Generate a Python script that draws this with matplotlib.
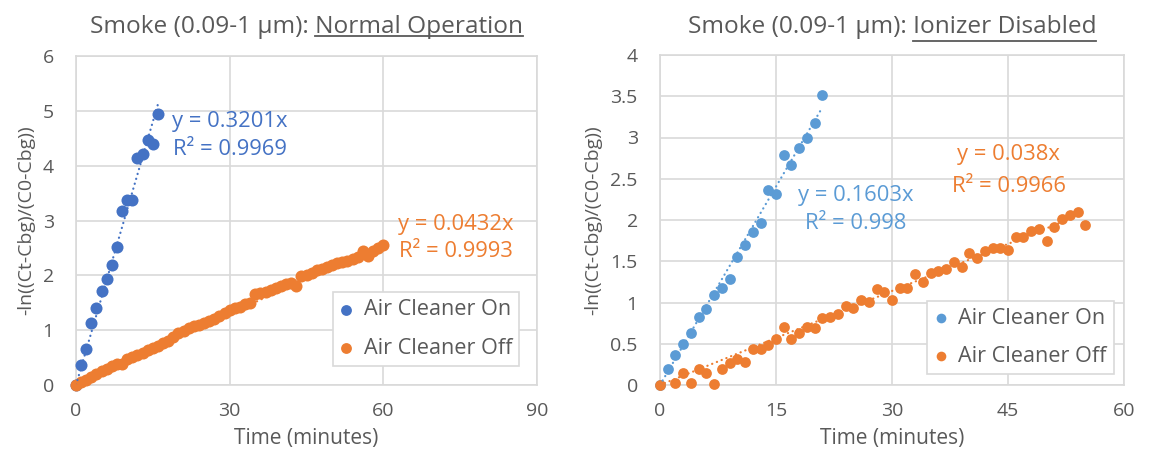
import numpy as np
import matplotlib
matplotlib.use("Agg")
import matplotlib.pyplot as plt
from matplotlib.lines import Line2D

# ---- data ----
left_on_t = list(range(0, 17))
left_on_y = [0, 0.36, 0.65, 1.13, 1.40, 1.72, 1.93, 2.18, 2.51, 3.18, 3.38,
             3.38, 4.14, 4.21, 4.47, 4.40, 4.95]

left_off_t = list(range(0, 61))
left_off_y = [0.00, 0.05, 0.10, 0.15, 0.20, 0.25, 0.30, 0.35, 0.39, 0.38,
              0.47, 0.51, 0.55, 0.58, 0.63, 0.67, 0.71, 0.76, 0.81, 0.87,
              0.94, 0.99, 1.04, 1.07, 1.10, 1.13, 1.17, 1.21, 1.26, 1.32,
              1.37, 1.40, 1.43, 1.47, 1.50, 1.66, 1.67, 1.70, 1.73, 1.76,
              1.81, 1.85, 1.86, 1.80, 1.98, 2.01, 2.04, 2.09, 2.12, 2.16,
              2.19, 2.22, 2.24, 2.27, 2.30, 2.34, 2.45, 2.36, 2.44, 2.50,
              2.55]

right_on_t = list(range(0, 22))
right_on_y = [0, 0.20, 0.36, 0.50, 0.63, 0.82, 0.92, 1.09, 1.18, 1.28, 1.55,
              1.70, 1.85, 1.96, 2.36, 2.32, 2.79, 2.67, 2.87, 2.99, 3.17, 3.52]

right_off_t = [0] + list(range(2, 56))
right_off_y = [0, 0.02, 0.15, 0.02, 0.19, 0.14, 0.01, 0.19, 0.27, 0.32, 0.28,
               0.44, 0.44, 0.48, 0.56, 0.70, 0.56, 0.63, 0.70, 0.69, 0.81,
               0.82, 0.86, 0.96, 0.93, 1.03, 1.01, 1.16, 1.13, 1.03, 1.17,
               1.17, 1.34, 1.25, 1.36, 1.38, 1.41, 1.49, 1.43, 1.60, 1.54,
               1.63, 1.66, 1.66, 1.64, 1.80, 1.79, 1.87, 1.89, 1.75, 1.91,
               2.01, 2.06, 2.10, 1.94]

# trendline slopes (Excel fit through origin)
slopes = {"left_on": 0.3201, "left_off": 0.0432,
          "right_on": 0.1603, "right_off": 0.038}
labels = {"left_on": ("y = 0.3201x", "R² = 0.9969"),
          "left_off": ("y = 0.0432x", "R² = 0.9993"),
          "right_on": ("y = 0.1603x", "R² = 0.998"),
          "right_off": ("y = 0.038x", "R² = 0.9966")}

GRAY = "#595959"
GRID = "#d9d9d9"
BLUE_L = "#4472C4"
BLUE_R = "#5B9BD5"
ORANGE = "#ED7D31"

plt.rcParams["font.family"] = ["Open Sans", "DejaVu Sans"]

W, H = 1155, 455
fig = plt.figure(figsize=(W / 100, H / 100), dpi=100)


def px_axes(x0, x1, ytop, ybot):
    return fig.add_axes([x0 / W, (H - ybot) / H, (x1 - x0) / W, (ybot - ytop) / H])


ax1 = px_axes(76, 537, 56, 385)
ax2 = px_axes(660, 1124, 55, 385)


def style_axes(ax, xmax, xticks, ymax, yticks, yticklabels):
    ax.set_xlim(0, xmax)
    ax.set_ylim(0, ymax)
    ax.set_xticks(xticks)
    ax.set_yticks(yticks)
    ax.set_yticklabels(yticklabels)
    ax.grid(True, color=GRID, linewidth=1.2)
    ax.set_axisbelow(True)
    for s in ax.spines.values():
        s.set_color(GRID)
        s.set_linewidth(1.2)
    ax.tick_params(length=0, labelsize=14, colors=GRAY)
    ax.tick_params(axis="y", pad=16)
    ax.tick_params(axis="x", pad=12)
    ax.set_xlabel("Time (minutes)", fontsize=15, color=GRAY, labelpad=6)
    ax.set_ylabel("-ln((Ct-Cbg)/(C0-Cbg))", fontsize=14, color=GRAY)


def series(ax, t, y, color, label, slope, size):
    ax.scatter(t, y, s=size, color=color, label=label, zorder=3,
               clip_on=False, linewidths=0)
    tt = np.array([0, max(t)])
    ax.plot(tt, slope * tt, color=color, linewidth=1.6,
            linestyle=(0, (0.1, 2.2)), dash_capstyle="round", zorder=4)


def trend_label(ax, xc, y1, y2, lines, color):
    ax.text(xc, y1, lines[0], color=color, fontsize=15.8, ha="center", va="center")
    ax.text(xc, y2, lines[1], color=color, fontsize=15.8, ha="center", va="center")


# left chart
style_axes(ax1, 90, [0, 30, 60, 90], 6, range(0, 7), [str(v) for v in range(0, 7)])
series(ax1, left_on_t, left_on_y, BLUE_L, "Air Cleaner On", slopes["left_on"], 75)
series(ax1, left_off_t, left_off_y, ORANGE, "Air Cleaner Off", slopes["left_off"], 75)
trend_label(ax1, 30.0, 4.80, 4.29, labels["left_on"], BLUE_L)
trend_label(ax1, 74.1, 2.93, 2.43, labels["left_off"], ORANGE)
ax1.yaxis.set_label_coords(-0.089, 0.5)

# right chart
yt = [0, 0.5, 1, 1.5, 2, 2.5, 3, 3.5, 4]
style_axes(ax2, 60, [0, 15, 30, 45, 60], 4, yt, ["0", "0.5", "1", "1.5", "2", "2.5", "3", "3.5", "4"])
series(ax2, right_on_t, right_on_y, BLUE_R, "Air Cleaner On", slopes["right_on"], 60)
series(ax2, right_off_t, right_off_y, ORANGE, "Air Cleaner Off", slopes["right_off"], 60)
trend_label(ax2, 25.3, 2.30, 1.96, labels["right_on"], BLUE_R)
trend_label(ax2, 45.1, 2.79, 2.40, labels["right_off"], ORANGE)
ax2.yaxis.set_label_coords(-0.125, 0.5)

for ax, cx, cy in [(ax1, 0.759, 0.170), (ax2, 0.777, 0.144)]:
    leg = ax.legend(loc="center", bbox_to_anchor=(cx, cy), fontsize=15.6,
                    frameon=True, fancybox=False, framealpha=1,
                    edgecolor=GRID, handlelength=0.6, handletextpad=0.5,
                    labelspacing=0.8, borderpad=0.32, scatterpoints=1,
                    markerscale=0.9)
    leg.get_frame().set_linewidth(1.2)
    for txt in leg.get_texts():
        txt.set_color(GRAY)

# titles with underlined second part
renderer = fig.canvas.get_renderer()


def title(ax, plain, under, base_px, gap_px):
    pos = ax.get_position()
    xc = (pos.x0 + pos.x1) / 2
    full = fig.text(xc, (H - base_px) / H, plain + under, fontsize=17.6,
                    color=GRAY, ha="center", va="baseline")
    probe = fig.text(0, 0, under, fontsize=17.6, va="baseline")
    wf = full.get_window_extent(renderer).width
    wu = probe.get_window_extent(renderer).width
    probe.remove()
    xr = xc * W + wf / 2
    yl = (H - base_px - gap_px) / H
    fig.add_artist(Line2D([(xr - wu) / W, xr / W], [yl, yl],
                          transform=fig.transFigure, color=GRAY, linewidth=1.3))


title(ax1, "Smoke (0.09-1 µm): ", "Normal Operation", 33, 3)
title(ax2, "Smoke (0.09-1 µm): ", "Ionizer Disabled", 33, 8)

fig.savefig("out.png", dpi=100)
